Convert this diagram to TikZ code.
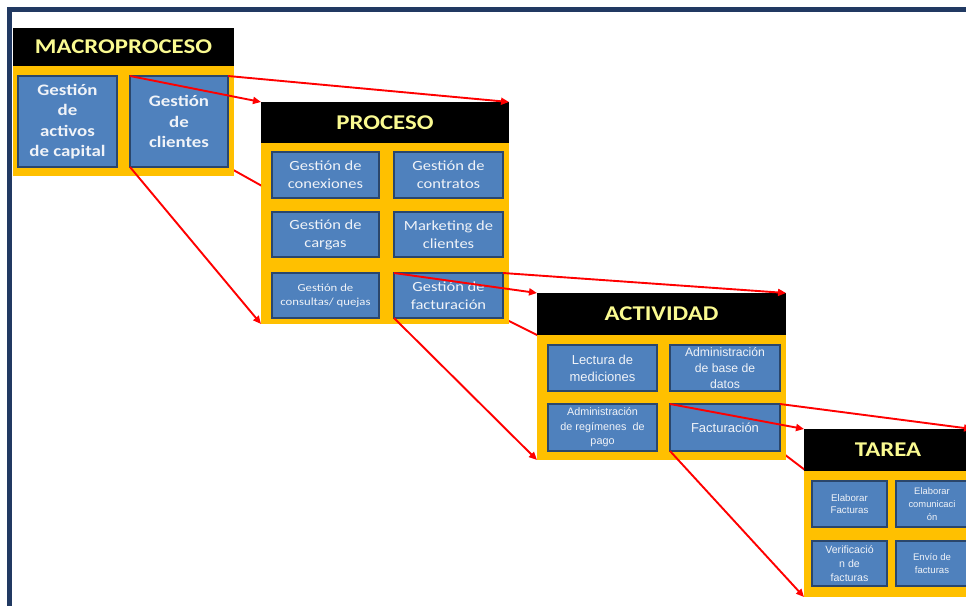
\documentclass[tikz,border=0pt]{standalone}
\usepackage{fontspec}
\usetikzlibrary{arrows.meta}
\newfontfamily\calfont[FakeStretch=1.18]{Carlito}
\newfontfamily\arfont{Liberation Sans}

\definecolor{frameblue}{RGB}{33,57,98}
\definecolor{orangebg}{RGB}{255,192,0}
\definecolor{boxblue}{RGB}{79,129,189}
\definecolor{boxedge}{RGB}{42,70,108}
\definecolor{headtext}{RGB}{250,250,145}
\definecolor{boxtext}{RGB}{240,243,248}
\definecolor{linkred}{RGB}{255,0,0}

\tikzset{
  head/.style={fill=black, anchor=north west, inner sep=0pt, outer sep=0pt,
    text=headtext, font=\calfont\bfseries\fontsize{21}{24}\selectfont},
  body/.style={fill=orangebg, anchor=north west, inner sep=0pt, outer sep=0pt},
  tile/.style={fill=boxblue, draw=boxedge, line width=1.8pt, anchor=north west,
    inner sep=0pt, outer sep=0pt, align=center, text=boxtext},
  macrotxt/.style={font=\calfont\bfseries\fontsize{16}{20.3}\selectfont},
  proctxt/.style={font=\calfont\fontsize{14}{18}\selectfont},
  proctxtsm/.style={font=\calfont\fontsize{10.8}{13.5}\selectfont},
  link/.style={draw=linkred, line width=1.9pt, -{Triangle[length=8pt,width=7pt]}},
  hidlink/.style={draw=linkred, line width=1.9pt}
}

\begin{document}
\begin{tikzpicture}[x=1pt,y=-1pt]
\useasboundingbox (0,0) rectangle (966,605);
\clip (0,0) rectangle (966,605);
\fill[white] (0,0) rectangle (966,605);

% page frame
\draw[frameblue, line width=5pt] (9.5,720) -- (9.5,9.5) -- (1000,9.5);

% ---- MACROPROCESO
\node[head, minimum width=221pt, minimum height=38pt] (mh) at (13,28) {MACROPROCESO};
\node[body, minimum width=221pt, minimum height=110pt] (mb) at (13,66) {};
% ---- PROCESO
\node[head, minimum width=248pt, minimum height=41pt] (ph) at (261,102) {PROCESO};
\node[body, minimum width=248pt, minimum height=181pt] (pb) at (261,143) {};
% ---- ACTIVIDAD
\node[head, minimum width=249pt, minimum height=42pt] (ah) at (537,293) {ACTIVIDAD};
\node[body, minimum width=249pt, minimum height=125pt] (ab) at (537,335) {};
% ---- TAREA
\node[head, minimum width=168pt, minimum height=42pt] (th) at (804,429) {TAREA};
\node[body, minimum width=168pt, minimum height=126pt] (tb) at (804,471) {};

% tiles
\node[tile, macrotxt, minimum width=99pt, minimum height=91pt] (m1) at (18,76) {Gestión\\de\\activos\\de capital};
\node[tile, macrotxt, minimum width=98pt, minimum height=91pt] (m2) at (130,76) {Gestión\\de\\clientes};

\node[tile, proctxt, minimum width=107pt, minimum height=46pt] (p1) at (272,152) {Gestión de\\conexiones};
\node[tile, proctxt, minimum width=109pt, minimum height=46pt] (p2) at (394,152) {Gestión de\\contratos};
\node[tile, proctxt, minimum width=107pt, minimum height=45pt] (p3) at (272,212) {Gestión de\\cargas};
\node[tile, proctxt, minimum width=109pt, minimum height=45pt] (p4) at (394,212) {Marketing de\\clientes};
\node[tile, proctxtsm, minimum width=107pt, minimum height=45pt] (p5) at (272,273) {Gestión de\\consultas/ quejas};
\node[tile, proctxt, minimum width=109pt, minimum height=45pt] (p6) at (394,273) {Gestión de\\facturación};

\node[tile, font=\arfont\fontsize{13}{17}\selectfont, minimum width=109pt, minimum height=46pt] (a1) at (548,345) {Lectura de\\mediciones};
\node[tile, font=\arfont\fontsize{12.2}{16}\selectfont, minimum width=110pt, minimum height=46pt] (a2) at (670,345) {Administración\\de base de\\datos};
\node[tile, font=\arfont\fontsize{10.8}{14.5}\selectfont, minimum width=109pt, minimum height=47pt] (a3) at (548,404) {Administración\\de regímenes\ \ de\\pago};
\node[tile, font=\arfont\fontsize{13}{17}\selectfont, minimum width=110pt, minimum height=47pt] (a4) at (670,404) {Facturación};

\node[tile, font=\arfont\fontsize{9.7}{12.5}\selectfont, minimum width=75pt, minimum height=46pt] (t1) at (812,481) {Elaborar\\Facturas};
\node[tile, font=\arfont\fontsize{9.4}{13}\selectfont, minimum width=72pt, minimum height=46pt] (t2) at (896,481) {Elaborar\\comunicaci\\ón};
\node[tile, font=\arfont\fontsize{10.6}{14}\selectfont, minimum width=75pt, minimum height=45pt] (t3) at (812,541) {Verificació\\n de\\facturas};
\node[tile, font=\arfont\fontsize{9.6}{13.5}\selectfont, minimum width=72pt, minimum height=45pt] (t4) at (896,541) {Envío de\\facturas};

% zoom connectors
\draw[link] (m2.north west) -- (ph.north west);
\draw[link] (m2.north east) -- (ph.north east);
\draw[link] (m2.south west) -- (pb.south west);

\draw[link] (p6.north west) -- (ah.north west);
\draw[link] (p6.north east) -- (ah.north east);
\draw[link] (p6.south west) -- (ab.south west);

\draw[link] (a4.north west) -- (th.north west);
\draw[link] (a4.north east) -- (th.north east);
\draw[link] (a4.south west) -- (tb.south west);

% lower-right connectors: only the gaps between blocks show
\begin{scope}
  \clip (234,0) rectangle (261,605);
  \draw[hidlink] (m2.south east) -- (pb.south east);
\end{scope}
\begin{scope}
  \clip (509,0) rectangle (537,605);
  \draw[hidlink] (p6.south east) -- (ab.south east);
\end{scope}
\begin{scope}
  \clip (786,0) rectangle (804,605);
  \draw[hidlink] (a4.south east) -- (tb.south east);
\end{scope}
\end{tikzpicture}
\end{document}
